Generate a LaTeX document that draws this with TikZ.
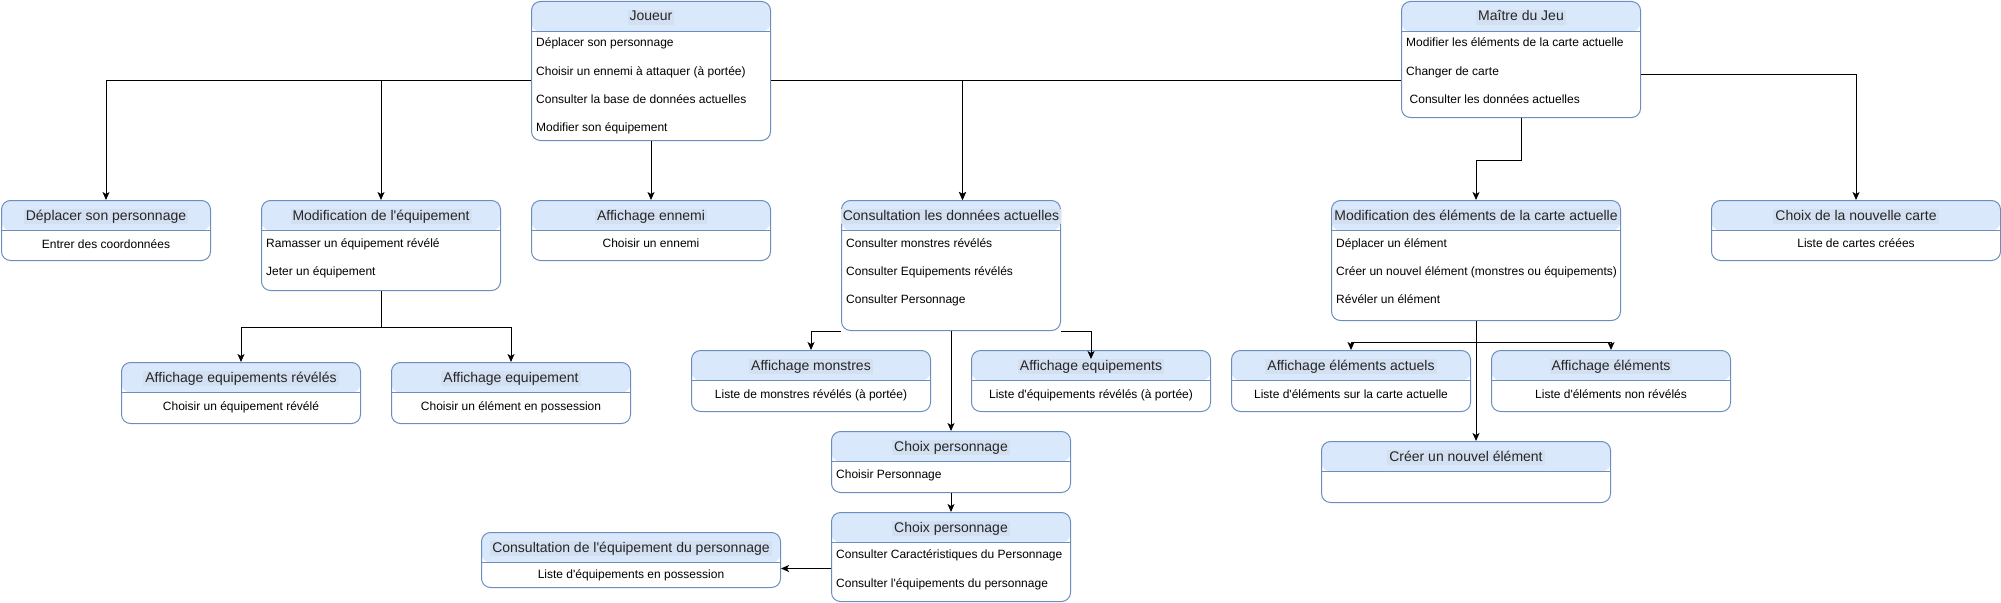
\documentclass[tikz,border=0pt]{standalone}
\usepackage{fontspec}
\setmainfont{Liberation Sans}
\usetikzlibrary{arrows.meta}

\definecolor{laneblue}{HTML}{6C8EBF}
\definecolor{headblue}{HTML}{DAE8FC}
\definecolor{titleblue}{HTML}{D3E0F2}

\begin{document}
\begin{tikzpicture}[x=1pt,y=-1pt,
  lane/.style={draw=laneblue, line width=1pt, fill=white, rounded corners=9pt,
    anchor=north west, inner sep=0pt,
    path picture={
      \fill[headblue] (path picture bounding box.north west) rectangle ([yshift=-30pt]path picture bounding box.north east);
      \draw[laneblue, line width=1pt] ([yshift=-30pt]path picture bounding box.north west) -- ([yshift=-30pt]path picture bounding box.north east);
    }},
  lanetitle/.style={font=\fontsize{14}{16}\selectfont, fill=titleblue, inner xsep=2pt, inner ysep=1pt,
    text height=10pt, text depth=3pt, text=black!85},
  laneitem/.style={font=\fontsize{12}{14}\selectfont, anchor=west, inner sep=0pt, text height=9pt, text depth=3pt},
  laneitemc/.style={font=\fontsize{12}{14}\selectfont, inner sep=0pt, text height=9pt, text depth=3pt},
  flow/.style={draw=black, line width=1pt, -{Stealth[length=8pt,width=7pt,inset=2pt]}}]

\def\lanebox#1#2#3#4#5#6{%
  \node[lane, minimum width=#4pt, minimum height=#5pt] (#1) at (#2,#3) {};
  \node[lanetitle] (#1-t) at ([yshift=-16.5pt]#1.north) {#6};
}

\useasboundingbox (0,0) rectangle (2001,602);

% acteurs
\lanebox{joueur}{531}{1}{239}{139}{Joueur}
\lanebox{maitre}{1401}{1}{239}{116}{Maître du Jeu}

\node[laneitem] (joueur-1) at ([shift={(5pt,-43pt)}]joueur.north west) {Déplacer son personnage};
\node[laneitem] (joueur-2) at ([shift={(5pt,-71pt)}]joueur.north west) {Choisir un ennemi à attaquer (à portée)};
\node[laneitem] (joueur-3) at ([shift={(5pt,-99pt)}]joueur.north west) {Consulter la base de données actuelles};
\node[laneitem] (joueur-4) at ([shift={(5pt,-127pt)}]joueur.north west) {Modifier son équipement};

\node[laneitem] (maitre-1) at ([shift={(5pt,-43pt)}]maitre.north west) {Modifier les éléments de la carte actuelle};
\node[laneitem] (maitre-2) at ([shift={(5pt,-71pt)}]maitre.north west) {Changer de carte};
\node[laneitem] (maitre-3) at ([shift={(8.5pt,-99pt)}]maitre.north west) {Consulter les données actuelles};

% deuxieme niveau
\lanebox{deplacer}{1}{200}{209}{60}{Déplacer son personnage}
\lanebox{modequip}{261}{200}{239}{90}{Modification de l\textquotesingle équipement}
\lanebox{affennemi}{531}{200}{239}{60}{Affichage ennemi}
\lanebox{consult}{841}{200}{219}{130}{Consultation les données actuelles}
\lanebox{modelem}{1331}{200}{289}{120}{Modification des éléments de la carte actuelle}
\lanebox{choixcarte}{1711}{200}{289}{60}{Choix de la nouvelle carte}

\node[laneitemc] (deplacer-1) at ([yshift=-45pt]deplacer.north) {Entrer des coordonnées};
\node[laneitem] (modequip-1) at ([shift={(5pt,-44pt)}]modequip.north west) {Ramasser un équipement révélé};
\node[laneitem] (modequip-2) at ([shift={(5pt,-72pt)}]modequip.north west) {Jeter un équipement};
\node[laneitemc] (affennemi-1) at ([yshift=-44pt]affennemi.north) {Choisir un ennemi};
\node[laneitem] (consult-1) at ([shift={(5pt,-44pt)}]consult.north west) {Consulter monstres révélés};
\node[laneitem] (consult-2) at ([shift={(5pt,-72pt)}]consult.north west) {Consulter Equipements révélés};
\node[laneitem] (consult-3) at ([shift={(5pt,-100pt)}]consult.north west) {Consulter Personnage};
\node[laneitem] (modelem-1) at ([shift={(5pt,-44pt)}]modelem.north west) {Déplacer un élément};
\node[laneitem] (modelem-2) at ([shift={(5pt,-72pt)}]modelem.north west) {Créer un nouvel élément (monstres ou équipements)};
\node[laneitem] (modelem-3) at ([shift={(5pt,-100pt)}]modelem.north west) {Révéler un élément};
\node[laneitemc] (choixcarte-1) at ([yshift=-44pt]choixcarte.north) {Liste de cartes créées};

% troisieme niveau
\lanebox{affeqrev}{121}{362}{239}{61}{Affichage equipements révélés}
\lanebox{affeq}{391}{362}{239}{61}{Affichage equipement}
\lanebox{affmonstres}{691}{350}{239}{61}{Affichage monstres}
\lanebox{affequips}{971}{350}{239}{61}{Affichage equipements}
\lanebox{affelact}{1231}{350}{239}{61}{Affichage éléments actuels}
\lanebox{affel}{1491}{350}{239}{61}{Affichage éléments}

\node[laneitemc] (affeqrev-1) at ([yshift=-45pt]affeqrev.north) {Choisir un équipement révélé};
\node[laneitemc] (affeq-1) at ([yshift=-45pt]affeq.north) {Choisir un élément en possession};
\node[laneitemc] (affmonstres-1) at ([yshift=-45pt]affmonstres.north) {Liste de monstres révélés (à portée)};
\node[laneitemc] (affequips-1) at ([yshift=-45pt]affequips.north) {Liste d\textquotesingle équipements révélés (à portée)};
\node[laneitemc] (affelact-1) at ([yshift=-45pt]affelact.north) {Liste d\textquotesingle éléments sur la carte actuelle};
\node[laneitemc] (affel-1) at ([yshift=-45pt]affel.north) {Liste d\textquotesingle éléments non révélés};

% personnage
\lanebox{choixperso1}{831}{431}{239}{61}{Choix personnage}
\lanebox{choixperso2}{831}{512}{239}{89}{Choix personnage}
\lanebox{consequip}{481}{532}{299}{55}{Consultation de l\textquotesingle équipement du personnage}
\lanebox{creer}{1321}{441}{289}{61}{Créer un nouvel élément}

\node[laneitem] (choixperso1-1) at ([shift={(5pt,-44pt)}]choixperso1.north west) {Choisir Personnage};
\node[laneitem] (choixperso2-1) at ([shift={(5pt,-43pt)}]choixperso2.north west) {Consulter Caractéristiques du Personnage};
\node[laneitem] (choixperso2-2) at ([shift={(5pt,-72pt)}]choixperso2.north west) {Consulter l\textquotesingle équipements du personnage};
\node[laneitemc] (consequip-1) at ([yshift=-43pt]consequip.north) {Liste d\textquotesingle équipements en possession};

% liens
\draw[flow] ([yshift=-9.5pt]joueur.west) -| (deplacer.north);
\draw[flow] ([yshift=-9.5pt]joueur.west) -| (modequip.north);
\draw[flow] ([yshift=-9.5pt]joueur.east) -| ([xshift=11.5pt]consult.north);
\draw[flow] ([yshift=-21pt]maitre.west) -| ([xshift=11.5pt]consult.north);
\draw[flow] (joueur.south) -- (affennemi.north);
\draw[flow] ([yshift=-15pt]maitre.east) -| (choixcarte.north);
\draw[flow] (maitre.south) -- ++(0,42) -| (modelem.north);

\draw[flow] (modequip.south) -- ++(0,36) -| (affeqrev.north);
\draw[flow] (modequip.south) -- ++(0,36) -| (affeq.north);

\draw[flow] (consult.south west) -| (affmonstres.north);
\draw[flow] (consult.south east) -| ([yshift=-9pt]affequips.north);
\draw[flow] (consult.south) -- (choixperso1.north);
\draw[flow] (choixperso1.south) -- (choixperso2.north);
\coordinate (c2w) at ([yshift=-11.5pt]choixperso2.west);
\draw[flow] (c2w) -- (c2w -| consequip.east);

\draw[flow] (modelem.south) -- ++(0,21) -| (affelact.north);
\draw[flow] (modelem.south) -- ++(0,21) -| (affel.north);
\draw[flow] (modelem.south) -- (modelem.south |- creer.north);

\end{tikzpicture}
\end{document}
